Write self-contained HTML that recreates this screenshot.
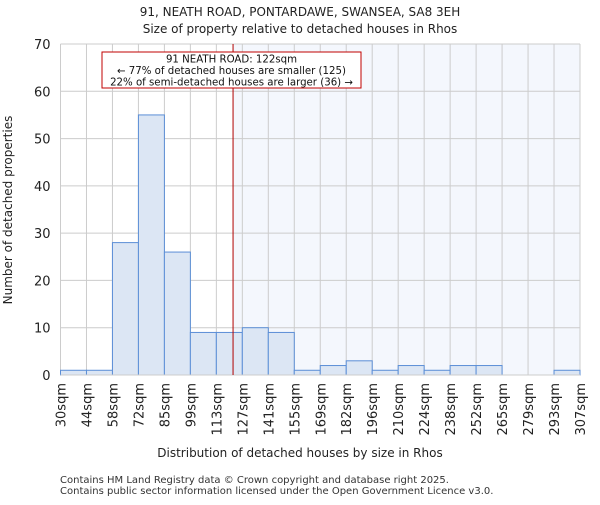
<!DOCTYPE html>
<html><head><meta charset="utf-8"><style>body{margin:0;background:#fff}svg{font-family:"DejaVu Sans","Liberation Sans",sans-serif}</style></head>
<body>
<svg id="c" width="600" height="500" xmlns="http://www.w3.org/2000/svg">
<text x="300" y="16" text-anchor="middle" font-size="12" fill="#222">91, NEATH ROAD, PONTARDAWE, SWANSEA, SA8 3EH</text>
<text x="300" y="33" text-anchor="middle" font-size="12" fill="#222">Size of property relative to detached houses in Rhos</text>
<g id="plot"></g>
<text x="300" y="457" text-anchor="middle" font-size="12" fill="#222">Distribution of detached houses by size in Rhos</text>
<text transform="translate(12,210) rotate(-90)" text-anchor="middle" font-size="12" fill="#222">Number of detached properties</text>
<text x="60" y="483" font-size="10" fill="#333">Contains HM Land Registry data © Crown copyright and database right 2025.</text>
<text x="60" y="494" font-size="10" fill="#333">Contains public sector information licensed under the Open Government Licence v3.0.</text>
</svg>
<script>
const binLabels=["30sqm","44sqm","58sqm","72sqm","85sqm","99sqm","113sqm","127sqm","141sqm","155sqm","169sqm","182sqm","196sqm","210sqm","224sqm","238sqm","252sqm","265sqm","279sqm","293sqm","307sqm"];
const binEdges=[30,44,58,72,85,99,113,127,141,155,169,182,196,210,224,238,252,265,279,293,307];
const counts=[1,1,28,55,26,9,9,10,9,1,2,3,1,2,1,2,2,0,0,1];
const yTicks=[0,10,20,30,40,50,60,70];
const propertySize=122;
const L=60.5,R=580,T=44,B=375,yMax=70;
const ns="http://www.w3.org/2000/svg";
const g=document.getElementById('plot');
const n=binEdges.length-1;
function xIdx(i){return L+(R-L)*i/n;}
function xVal(v){let i=0;while(i<n-1&&v>binEdges[i+1])i++;return xIdx(i)+(v-binEdges[i])/(binEdges[i+1]-binEdges[i])*(R-L)/n;}
function y(v){return B-(B-T)*v/yMax;}
function mk(t,a){const e=document.createElementNS(ns,t);for(const k in a)e.setAttribute(k,a[k]);g.appendChild(e);return e;}
const px=xVal(propertySize);
let e=mk('rect',{x:px,y:T,width:R-px,height:B-T,fill:'#f4f7fd'});


yTicks.forEach(t=>{
 let l=mk('line',{x1:L,x2:R,y1:y(t),y2:y(t),stroke:'#cccccc'});
 
 
 let tx=mk('text',{x:L-10,y:y(t)+5,'text-anchor':'end','font-size':13,fill:'#222'});
 tx.textContent=t;
 
 
});
binLabels.forEach((lab,i)=>{
 const x=xIdx(i);
 let l=mk('line',{x1:x,x2:x,y1:T,y2:B,stroke:'#cccccc'});
 
 
 let tx=mk('text',{transform:`translate(${x+5},383) rotate(-90)`,'text-anchor':'end','font-size':13,fill:'#222'});
 tx.textContent=lab;
 
 
});
counts.forEach((c,i)=>{
 if(c<=0)return;
 let r=mk('rect',{x:xIdx(i),y:y(c),width:(R-L)/n,height:B-y(c),fill:'#dce6f4',stroke:'#5b8ed6','stroke-width':1});
 
 
});
let ax=mk('line',{x1:L,x2:R,y1:B,y2:B,stroke:'#cccccc'});


let pl=mk('line',{x1:px,x2:px,y1:T,y2:B,stroke:'#b00000','stroke-width':1});


let bx=mk('rect',{x:102,y:52,width:259,height:36,fill:'#fff',stroke:'#c00000'});


["91 NEATH ROAD: 122sqm","← 77% of detached houses are smaller (125)","22% of semi-detached houses are larger (36) →"].forEach((s,i)=>{
 let t=mk('text',{x:231.5,y:62.5+i*11.5,'text-anchor':'middle','font-size':10.2,fill:'#111'});
 t.textContent=s;
 
 
});
</script>
</body></html>
